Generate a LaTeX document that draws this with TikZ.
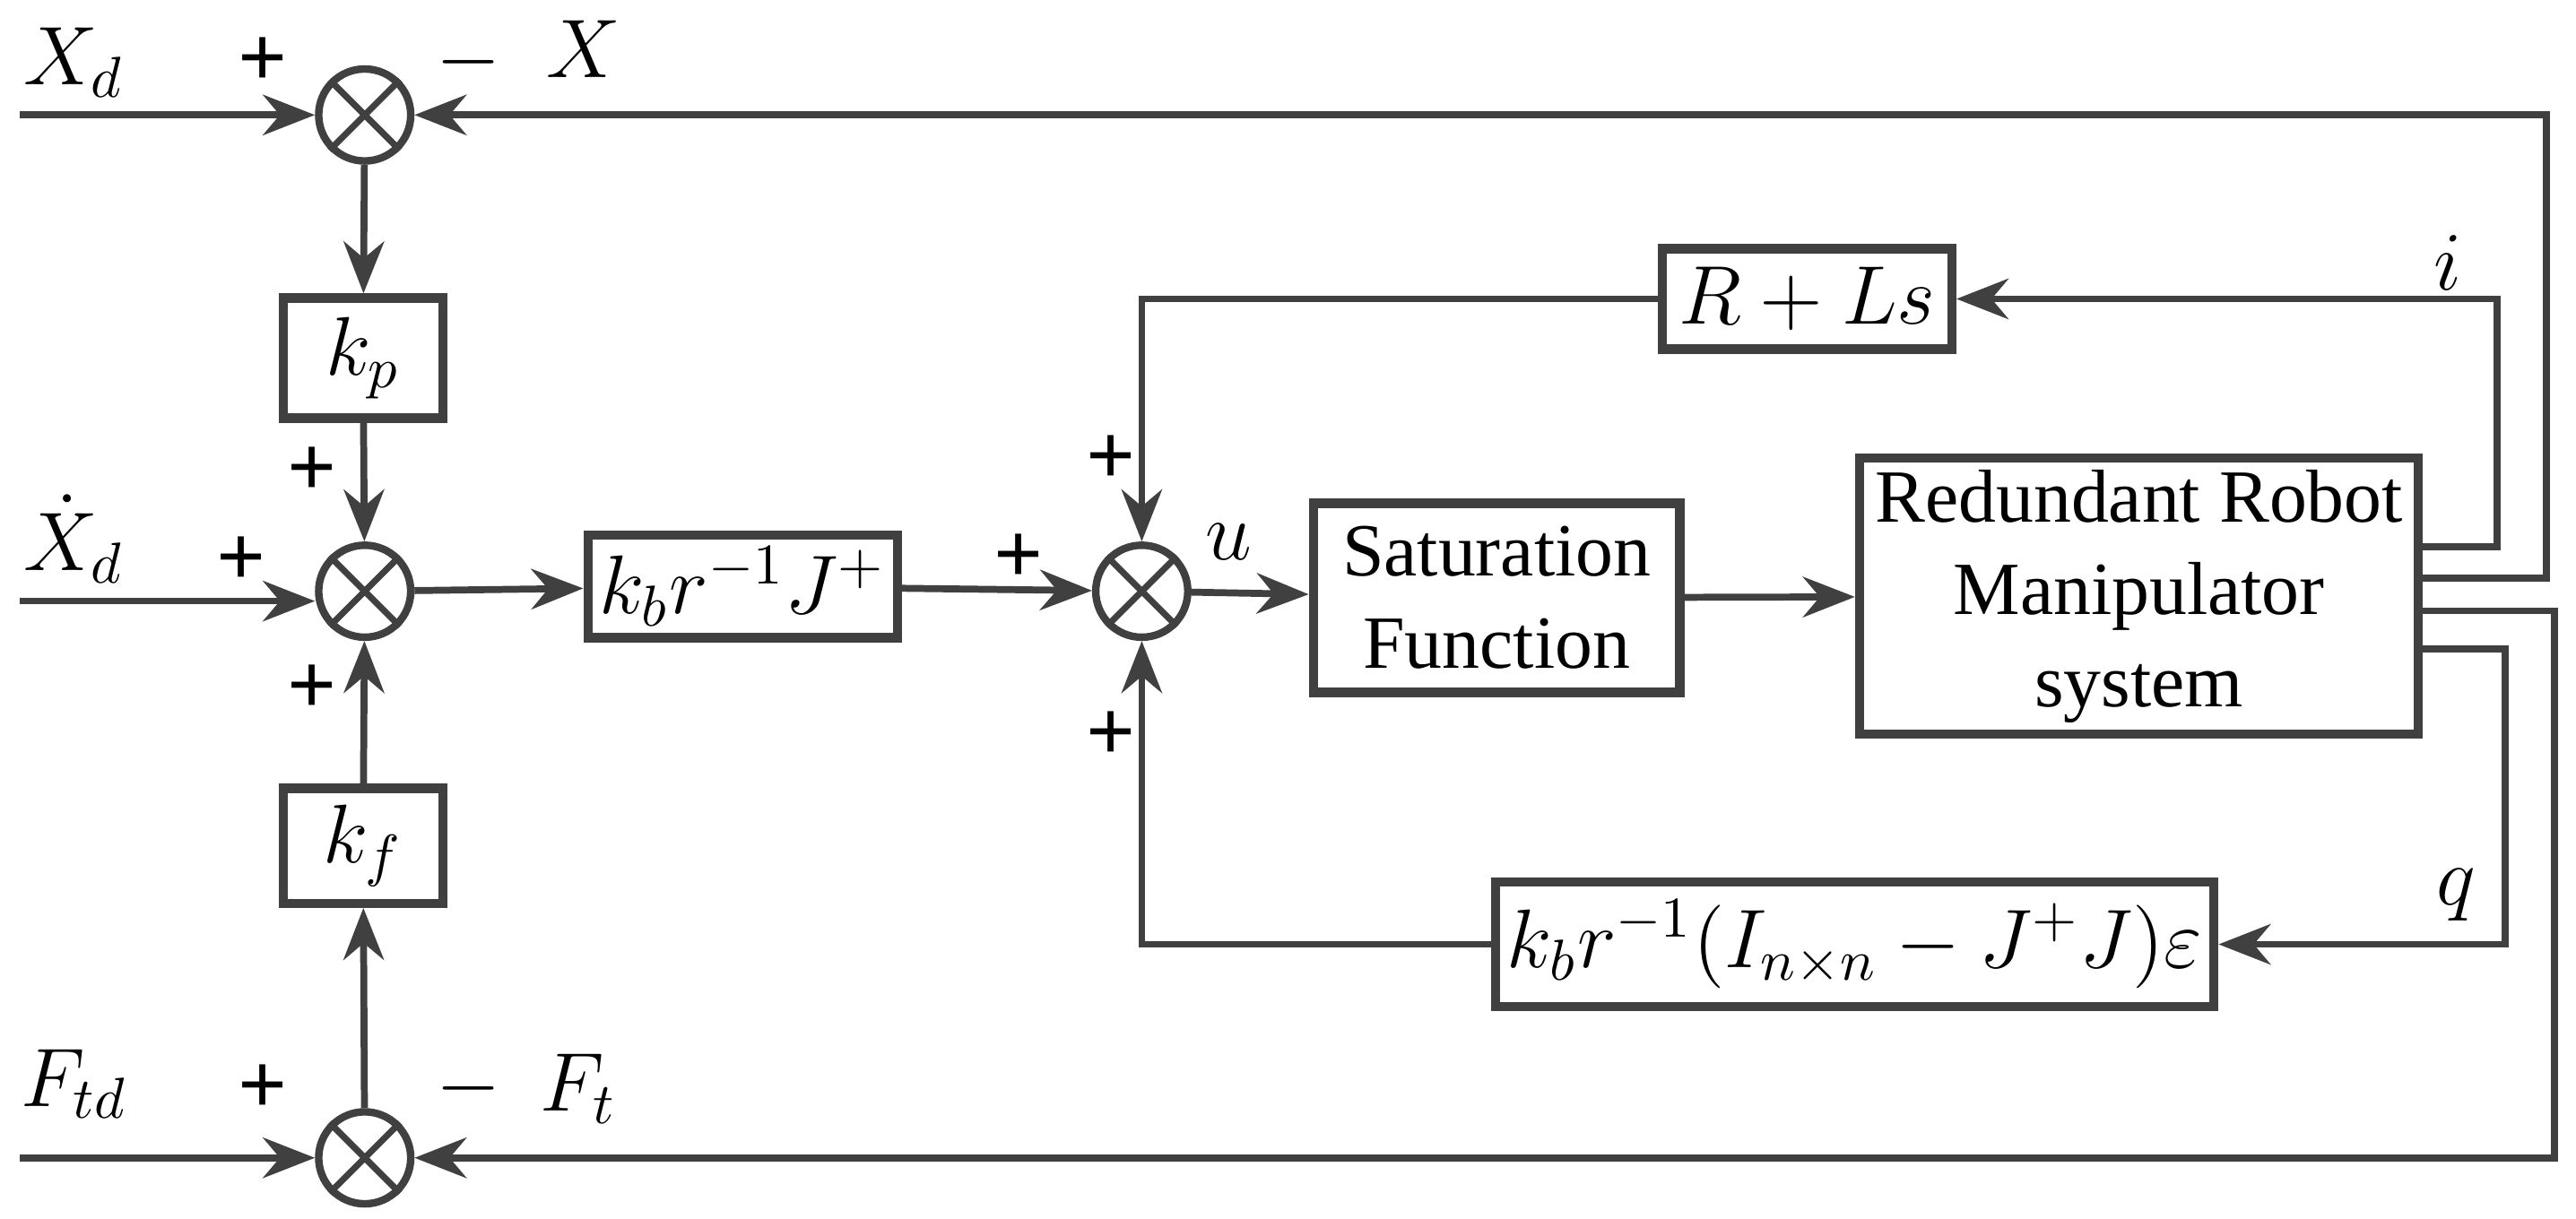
\documentclass[tikz,border=0pt]{standalone}
\usepackage{fontspec}
\setmainfont{Liberation Serif}
\usetikzlibrary{arrows.meta}
\definecolor{ln}{HTML}{404040}
\begin{document}
\begin{tikzpicture}[x=0.01cm,y=-0.01cm,
  ln/.style={draw=ln,line width=1.2pt},
  arr/.style={ln,-{Stealth[length=9pt,width=7pt]}},
  blk/.style={draw=ln,line width=1.6pt,minimum height=#1,inner sep=2pt},
  sum/.style={circle,draw=ln,line width=1.3pt,minimum size=0.56cm,inner sep=0pt},
  lab/.style={font=\fontsize{14}{16}\selectfont,text=black},
  sg/.style={font=\fontsize{15}{17}\selectfont\bfseries,text=black}]
\useasboundingbox (0,0) rectangle (1568,742);
\newcommand{\crossit}[1]{\draw[draw=ln,line width=1.1pt] (#1.45)--(#1.225) (#1.135)--(#1.315);}
\node[sum] (s1) at (222,70) {}; \crossit{s1}
\node[sum] (s2) at (222,360) {}; \crossit{s2}
\node[sum] (s3) at (222,705) {}; \crossit{s3}
\node[sum] (s4) at (695,360) {}; \crossit{s4}
\node[blk=0.73cm,minimum width=0.97cm,lab] (kp) at (221,218) {$k_p$};
\node[blk=0.70cm,minimum width=0.97cm,lab] (kf) at (221,515) {$k_f$};
\node[blk=0.55cm,minimum width=1.8cm,lab] (kb) at (452,357) {$k_b r^{-1} J^{+}$};
\node[blk=1.15cm,minimum width=2.23cm,align=center,font=\fontsize{13}{16}\selectfont] (sat) at (911,364) {Saturation\\Function};
\node[blk=1.67cm,minimum width=3.4cm,align=center,font=\fontsize{13}{16}\selectfont] (rob) at (1302,363) {Redundant Robot\\Manipulator\\system};
\node[blk=0.61cm,minimum width=1.76cm,lab] (rl) at (1100,182) {$R+Ls$};
\node[blk=0.76cm,minimum width=3.92cm,lab] (nb) at (1129,575) {$k_b r^{-1}\bigl(I_{n\times n}-J^{+}J\bigr)\varepsilon$};
\coordinate (in1) at (12,70); \coordinate (in2) at (12,366); \coordinate (in3) at (12,705);
\draw[arr] (in1) -- (s1);
\draw[arr] (in2) -- (s2.west|-in2);
\draw[arr] (in3) -- (s3);
\draw[arr] (s1) -- (kp);
\draw[arr] (kp) -- (s2);
\draw[arr] (s3) -- (kf);
\draw[arr] (kf) -- (s2);
\draw[arr] (s2) -- (kb);
\draw[arr] (kb) -- (s4);
\draw[arr] (s4) -- (sat);
\draw[arr] (sat) -- (rob);
\draw[arr] (rob.east|-0,333) -| (1520,182) -- (rl);
\draw[arr] (rl) -| (s4);
\draw[arr] (rob.east|-0,352) -| (1550,70) -- (s1);
\draw[arr] (rob.east|-0,372) -| (1555,705) -- (s3);
\draw[arr] (rob.east|-0,395) -| (1525,575) -- (nb);
\draw[arr] (nb) -| (s4);
\node[lab] at (45,38) {$X_d$};
\node[lab] at (355,30) {$X$};
\node[lab] at (45,328) {$\dot X_d$};
\node[lab] at (45,660) {$F_{td}$};
\node[lab] at (352,663) {$F_t$};
\node[lab] at (748,330) {$u$};
\node[lab] at (1490,160) {$i$};
\node[lab] at (1495,545) {$q$};
\node[sg] at (160,38) {+}; \node[sg] at (285,38) {$-$};
\node[sg] at (160,663) {+}; \node[sg] at (285,663) {$-$};
\node[sg] at (190,287) {+}; \node[sg] at (147,342) {+}; \node[sg] at (190,420) {+};
\node[sg] at (620,340) {+}; \node[sg] at (676,280) {+}; \node[sg] at (676,448) {+};
\end{tikzpicture}
\end{document}
